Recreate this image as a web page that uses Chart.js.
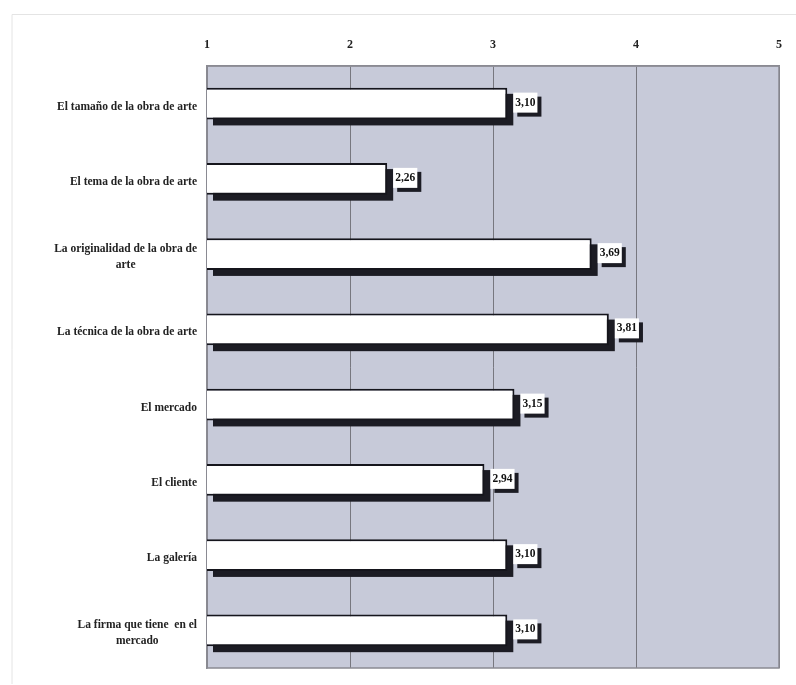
<!DOCTYPE html>
<html>
<head>
<meta charset="utf-8">
<script src="https://cdn.jsdelivr.net/npm/chart.js@4.4.1/dist/chart.umd.min.js"></script>
<style>
  html, body { margin: 0; padding: 0; background: #fff; }
  #wrap { position: relative; width: 796px; height: 685px; }
</style>
</head>
<body>
<div id="wrap"><canvas id="chart" width="796" height="685"></canvas></div>
<script>
// ---------- data ----------
const categories = [
  "El tamaño de la obra de arte",
  "El tema de la obra de arte",
  ["La originalidad de la obra de", "arte"],
  "La técnica de la obra de arte",
  "El mercado",
  "El cliente",
  "La galería",
  ["La firma que tiene  en el", "mercado"],
];
const values = [3.10, 2.26, 3.69, 3.81, 3.15, 2.94, 3.10, 3.10];
const tickValues = [1, 2, 3, 4, 5];

const SERIF = "'Liberation Serif', 'DejaVu Serif', serif";
const PLOT_BG = "#c7cad9";

function fmt(v) {
  return v.toFixed(2).replace(".", ",");
}

// ---------- plugins ----------
const decor = {
  id: "decor",
  beforeDraw(chart) {
    const { ctx, chartArea: a } = chart;
    ctx.save();
    // faint outer frame of the scanned page
    ctx.strokeStyle = "#e4e4e4";
    ctx.lineWidth = 1;
    ctx.beginPath();
    ctx.moveTo(12, 684);
    ctx.lineTo(12, 14.5);
    ctx.lineTo(796, 14.5);
    ctx.stroke();
    // plot background
    ctx.fillStyle = PLOT_BG;
    ctx.fillRect(a.left, a.top, a.right - a.left, a.bottom - a.top);
    ctx.restore();
  },
  beforeDatasetsDraw(chart) {
    const { ctx, chartArea: a } = chart;
    ctx.save();
    // full frame round the plot
    ctx.strokeStyle = "#8a8a92";
    ctx.lineWidth = 1.5;
    ctx.strokeRect(a.left, a.top, a.right - a.left, a.bottom - a.top);
    // dark drop shadow behind each bar
    const meta = chart.getDatasetMeta(0);
    ctx.fillStyle = "#1c1c24";
    meta.data.forEach((bar) => {
      const left = Math.max(a.left, Math.min(bar.x, bar.base));
      const right = Math.max(bar.x, bar.base);
      const top = bar.y - bar.height / 2;
      ctx.fillRect(left + 6, top + 6, right - left, bar.height);
    });
    ctx.restore();
  },
  afterDatasetsDraw(chart) {
    const { ctx } = chart;
    const meta = chart.getDatasetMeta(0);
    ctx.save();
    ctx.font = "bold 11.5px " + SERIF;
    ctx.textBaseline = "middle";
    ctx.textAlign = "left";
    meta.data.forEach((bar, i) => {
      const txt = fmt(values[i]);
      const tw = ctx.measureText(txt).width;
      const bx = bar.x + 6;
      const by = bar.y - 11;
      const bw = tw + 4;
      const bh = 20;
      ctx.fillStyle = "#1c1c24";
      ctx.fillRect(bx + 4, by + 4, bw, bh);
      ctx.fillStyle = "#fff";
      ctx.fillRect(bx, by, bw, bh);
      ctx.fillStyle = "#111";
      ctx.fillText(txt, bx + 2, by + bh / 2);
    });

    // category labels: block right aligned, lines centred inside block
    const yScale = chart.scales.y;
    ctx.font = "bold 11.5px " + SERIF;
    ctx.textAlign = "center";
    ctx.fillStyle = "#222";
    categories.forEach((lab, i) => {
      const lines = Array.isArray(lab) ? lab : [lab];
      const maxW = Math.max(...lines.map((l) => ctx.measureText(l).width));
      const cx = 197 - maxW / 2;
      const yc = yScale.getPixelForValue(i) + 3;
      const lh = 16;
      const y0 = yc - ((lines.length - 1) * lh) / 2;
      lines.forEach((l, k) => ctx.fillText(l, cx, y0 + k * lh));
    });
    ctx.restore();
  },
};

// ---------- chart ----------
new Chart(document.getElementById("chart"), {
  type: "bar",
  data: {
    labels: categories,
    datasets: [
      {
        data: values,
        backgroundColor: "#ffffff",
        borderColor: "#15151c",
        borderWidth: 2,
        borderSkipped: false,
        barPercentage: 0.84,
        categoryPercentage: 0.5,
      },
    ],
  },
  options: {
    indexAxis: "y",
    responsive: false,
    animation: false,
    layout: { padding: { top: 0, right: 16, bottom: 17, left: 0 } },
    plugins: {
      legend: { display: false },
      tooltip: { enabled: false },
    },
    scales: {
      x: {
        position: "top",
        min: 1,
        max: 5,
        afterBuildTicks: (scale) => {
          scale.ticks = tickValues.map((v) => ({ value: v }));
        },
        afterFit: (scale) => {
          scale.height = 66;
        },
        grid: {
          color: "#77777f",
          lineWidth: 1,
          drawTicks: false,
        },
        border: { display: true, color: "#8a8a92", width: 1.5 },
        ticks: {
          padding: 14,
          color: "#222",
          font: { family: SERIF, size: 12, weight: "bold" },
          callback: (v) => v,
        },
      },
      y: {
        afterFit: (scale) => {
          scale.width = 207;
        },
        grid: { display: false },
        border: { display: true, color: "#8a8a92", width: 1.5 },
        ticks: { display: false },
      },
    },
  },
  plugins: [decor],
});
</script>
</body>
</html>
